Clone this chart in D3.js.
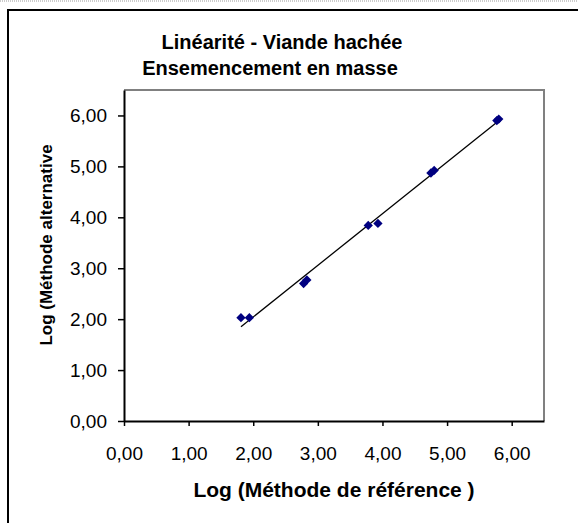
<!DOCTYPE html>
<html>
<head>
<meta charset="utf-8">
<script src="https://cdn.jsdelivr.net/npm/d3@7"></script>
<style>
  body { margin: 0; background: #fff; }
  svg { display: block; font-family: "Liberation Sans", Arial, sans-serif; }
</style>
</head>
<body>
<div id="chart"></div>
<script>
// measured pairs: log(reference method) vs log(alternative method)
var refLog = [1.81, 1.94, 2.78, 2.83, 3.78, 3.93, 4.75, 4.80, 5.77, 5.80];
var altLog = [2.03, 2.03, 2.70, 2.77, 3.84, 3.88, 4.87, 4.92, 5.90, 5.93];
var xTicks = [0, 1, 2, 3, 4, 5, 6];
var yTicks = [0, 1, 2, 3, 4, 5, 6];
var titleLines = ["Linéarité - Viande hachée", "Ensemencement en masse"];
var xTitle = "Log (Méthode de référence )";
var yTitle = "Log (Méthode alternative";

var W = 578, H = 523;
var margin = {top: 90, right: 34, bottom: 102, left: 124};
var width = W - margin.left - margin.right,
    height = H - margin.top - margin.bottom;

var data = refLog.map(function(d, i) { return {x: d, y: altLog[i]}; });

var fmt = function(d) { return d3.format(".2f")(d).replace(".", ","); };

var x = d3.scaleLinear().domain([0, 6.5]).range([0, width]);
var y = d3.scaleLinear().domain([0, 6.5]).range([height, 0]);

var svg = d3.select("#chart").append("svg")
    .attr("width", W)
    .attr("height", H);

// outer chart frame
svg.append("line").attr("x1", 0).attr("x2", W).attr("y1", 1).attr("y2", 1)
    .attr("stroke", "#999").attr("stroke-dasharray", "1,1");
svg.append("rect")
    .attr("x", 8).attr("y", 10)
    .attr("width", 620).attr("height", 620)
    .attr("fill", "none").attr("stroke", "#000").attr("stroke-width", 2);

// title
svg.selectAll(".title")
    .data(titleLines)
  .enter().append("text")
    .attr("class", "title")
    .attr("x", function(d, i) { return i === 0 ? 282 : 270; })
    .attr("y", function(d, i) { return 49 + i * 26; })
    .attr("text-anchor", "middle")
    .style("font-size", "20px")
    .style("font-weight", "bold")
    .text(function(d) { return d; });

var g = svg.append("g")
    .attr("transform", "translate(" + margin.left + "," + margin.top + ")");

// plot area border (top/right gray)
g.append("path")
    .attr("d", "M0,0H" + width + "V" + height)
    .attr("fill", "none")
    .attr("stroke", "#808080")
    .attr("stroke-width", 2);

var xAxis = d3.axisBottom(x).tickValues(xTicks).tickFormat(fmt).tickSize(5).tickSizeOuter(0);
var yAxis = d3.axisLeft(y).tickValues(yTicks).tickFormat(fmt).tickSize(6).tickSizeOuter(0);

var gx = g.append("g")
    .attr("transform", "translate(0," + height + ")")
    .call(xAxis);
gx.select(".domain").attr("stroke", "#000").attr("stroke-width", 2);
gx.selectAll(".tick line").attr("stroke", "#000").attr("stroke-width", 1.5);
gx.selectAll(".tick text")
    .attr("y", 26)
    .style("font-size", "19px")
    .style("font-family", "Liberation Sans, Arial, sans-serif")
    .attr("fill", "#000");

var gy = g.append("g").call(yAxis);
gy.select(".domain").attr("stroke", "#000").attr("stroke-width", 2);
gy.selectAll(".tick line").attr("stroke", "#000").attr("stroke-width", 1.5);
gy.selectAll(".tick text")
    .attr("x", -17)
    .style("font-size", "19px")
    .style("font-family", "Liberation Sans, Arial, sans-serif")
    .attr("fill", "#000");

// axis titles
svg.append("text")
    .attr("x", 334)
    .attr("y", 497)
    .attr("text-anchor", "middle")
    .style("font-size", "21px")
    .style("font-weight", "bold")
    .text(xTitle);

svg.append("text")
    .attr("transform", "translate(52,245) rotate(-90)")
    .attr("text-anchor", "middle")
    .style("font-size", "17px")
    .style("font-weight", "bold")
    .text(yTitle);

// linear trendline (least squares)
var mx = d3.mean(data, function(d) { return d.x; }),
    my = d3.mean(data, function(d) { return d.y; });
var slope = d3.sum(data, function(d) { return (d.x - mx) * (d.y - my); }) /
            d3.sum(data, function(d) { return (d.x - mx) * (d.x - mx); });
var intercept = my - slope * mx;
var xr = d3.extent(data, function(d) { return d.x; });

g.append("line")
    .attr("x1", x(xr[0])).attr("y1", y(slope * xr[0] + intercept))
    .attr("x2", x(xr[1])).attr("y2", y(slope * xr[1] + intercept))
    .attr("stroke", "#000")
    .attr("stroke-width", 1.3);

// diamond markers
g.selectAll(".dot")
    .data(data)
  .enter().append("path")
    .attr("class", "dot")
    .attr("d", d3.symbol().type(d3.symbolDiamond2).size(55))
    .attr("transform", function(d) { return "translate(" + x(d.x) + "," + y(d.y) + ")"; })
    .attr("fill", "#000080");
</script>
</body>
</html>
